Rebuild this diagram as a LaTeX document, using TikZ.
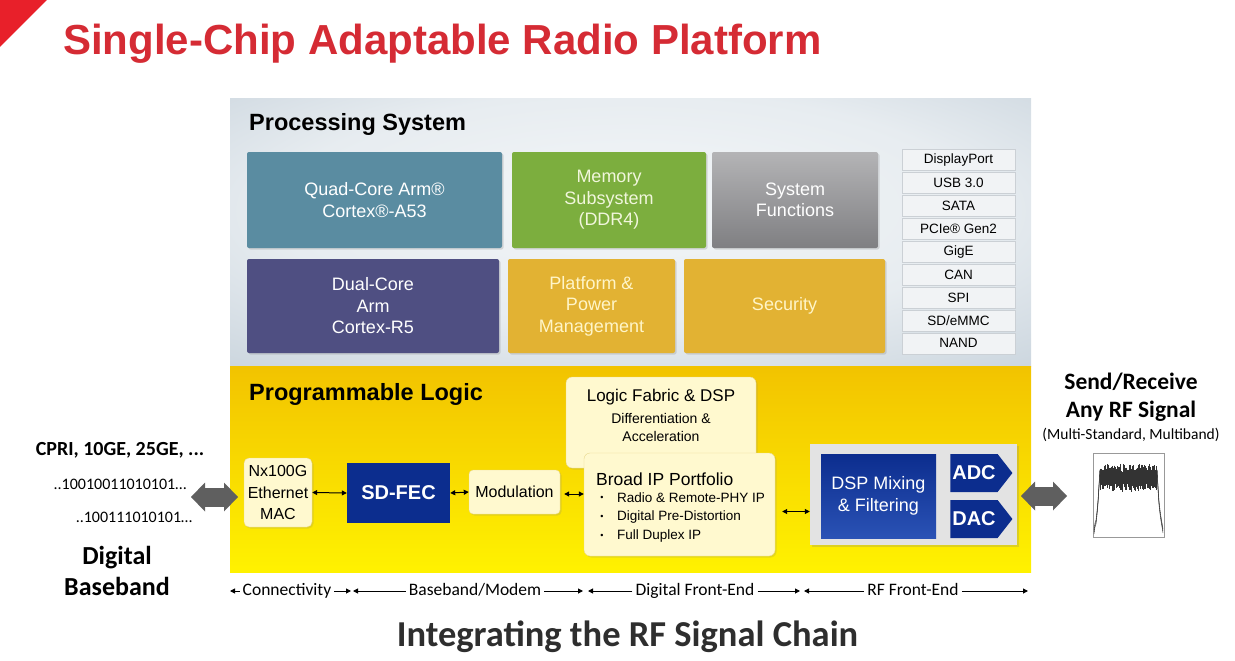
\documentclass[tikz,border=0pt]{standalone}
\usepackage{fontspec}
\setmainfont{Liberation Sans}
\newfontfamily\calfont{Carlito}
\usepackage{xcolor}
\usetikzlibrary{arrows.meta,shapes.symbols,shadows}

\definecolor{slidered}{HTML}{D52B34}
\definecolor{cornerred}{HTML}{E8202A}
\definecolor{psedge}{HTML}{B7C5D1}
\definecolor{pscore}{HTML}{F3F6F8}
\definecolor{pltop}{HTML}{F2C300}
\definecolor{plbot}{HTML}{FFF200}
\definecolor{quadblue}{HTML}{5A8CA1}
\definecolor{memgreen}{HTML}{7CAE3E}
\definecolor{memtext}{HTML}{F1F6DC}
\definecolor{dualpurple}{HTML}{4F4F82}
\definecolor{gold}{HTML}{E2B233}
\definecolor{goldtext}{HTML}{FFF5C8}
\definecolor{sysgray1}{HTML}{B4B4B6}
\definecolor{sysgray2}{HTML}{7F7F82}
\definecolor{ifacefill}{HTML}{F1F3F5}
\definecolor{ifaceline}{HTML}{CBD0D5}
\definecolor{cream}{HTML}{FFF9CF}
\definecolor{creamline}{HTML}{E8D88E}
\definecolor{fecblue}{HTML}{0C2D8E}
\definecolor{fecblue2}{HTML}{2A52B5}
\definecolor{rfgray}{HTML}{E3E3E3}
\definecolor{fatgray}{HTML}{5F5F5F}
\definecolor{darktext}{HTML}{2E2E2E}

\pgfdeclareradialshading{psglow}{\pgfpoint{0bp}{6bp}}{color(0bp)=(pscore); color(22bp)=(pscore!80!psedge); color(50bp)=(psedge); color(75bp)=(psedge)}

\tikzset{
	psblock/.style={rounded corners=2pt, inner sep=0pt, align=center, text=white,
		font=\fontsize{18}{21.5}\selectfont,
		drop shadow={shadow xshift=1.5pt, shadow yshift=-1.5pt, opacity=.25}},
	iface/.style={fill=ifacefill, draw=ifaceline, minimum width=113pt, minimum height=21pt,
		inner sep=0pt, font=\fontsize{13.5}{16}\selectfont},
	creambox/.style={fill=cream, draw=creamline, rounded corners=6pt, inner sep=0pt, align=center,
		font=\fontsize{16}{21.5}\selectfont,
		drop shadow={shadow xshift=1.5pt, shadow yshift=-1.5pt, opacity=.2}},
	bluebox/.style={fill=fecblue, inner sep=0pt, text=white, align=center},
	convbox/.style={shape=signal, signal to=east, signal pointer angle=104, fill=fecblue,
		minimum width=62pt, minimum height=38pt, inner sep=0pt, text=white,
		font=\bfseries\fontsize{20}{24}\selectfont},
	smallarr/.style={{Triangle[length=5pt,width=5pt]}-{Triangle[length=5pt,width=5pt]}, line width=1pt},
	fatarr/.style={fatgray, line width=19pt,
		{Triangle[length=14pt,width=29pt,line width=0pt]}-{Triangle[length=14pt,width=29pt,line width=0pt]}},
	spanarr/.style={-{Triangle[length=5pt,width=5pt]}, line width=1pt},
	spanlbl/.style={font=\calfont\fontsize{17.5}{20}\selectfont, inner sep=3pt, text height=12pt, text depth=3pt},
	paneltitle/.style={anchor=base west, inner sep=0pt, font=\bfseries\fontsize{23.5}{28}\selectfont},
	sidetext/.style={align=center, inner sep=0pt, font=\calfont\fontsize{16}{20}\selectfont},
	plotink/.style={black!80, line width=.6pt}
}

\begin{document}
\begin{tikzpicture}[x=1pt,y=-1pt]
		\useasboundingbox (0,0) rectangle (1235,661);
		
		\fill[cornerred] (0,0) -- (47,0) -- (0,47) -- cycle;
		
		\node[anchor=base west, inner sep=0pt, text=slidered, font=\bfseries\fontsize{42}{48}\selectfont] (title) at (63,55) {Single-Chip Adaptable Radio Platform};
		
		\shade[shading=psglow] (230,99) rectangle (1031,366);
		
		\shade[top color=pltop, bottom color=plbot] (230,366) rectangle (1031,572);
		
		\node[paneltitle] (ps) at (249,131) {Processing System};
		
		\node[paneltitle] (pl) at (249,400) {Programmable Logic};
		
		\node[psblock, fill=quadblue, minimum width=255pt, minimum height=96pt] (a53) at (374.5,200) {Quad-Core Arm®\\Cortex®-A53};
		
		\node[psblock, fill=memgreen, text=memtext, minimum width=194pt, minimum height=96pt] (mem) at (609,200) {Memory\\Subsystem\\(DDR4)};
		
		\node[psblock, top color=sysgray1, bottom color=sysgray2, minimum width=166pt, minimum height=96pt] (sysfn) at (795,200) {System\\Functions};
		
		\node[psblock, fill=dualpurple, minimum width=252pt, minimum height=94pt] (r5) at (373,306) {Dual-Core\\Arm\\Cortex-R5};
		
		\node[psblock, fill=gold, text=goldtext, minimum width=167pt, minimum height=94pt] (pwr) at (591.5,306) {Platform \&\\Power\\Management};
		
		\node[psblock, fill=gold, text=goldtext, minimum width=201pt, minimum height=94pt] (sec) at (784.5,306) {Security};
		
		\foreach \name [count=\i from 0] in {DisplayPort, USB 3.0, SATA, PCIe® Gen2, GigE, CAN, SPI, SD/eMMC, NAND}
			\node[iface] (if\i) at (958.5,{160+22.9*\i}) {\name};
		
		\node[creambox, minimum width=190pt, minimum height=91pt] (fabric) at (661,422.5) {};
		\node[inner sep=0pt, font=\fontsize{17}{20}\selectfont] (fabrictop) at (661,397) {Logic Fabric \& DSP};
		\node[inner sep=0pt, align=center, font=\fontsize{14}{18}\selectfont] (fabricsub) at (661,427) {Differentiation \&\\Acceleration};
		
		\node[creambox, minimum width=191pt, minimum height=103pt] (broadip) at (679.5,504.5) {};
		\node[anchor=west, inner sep=0pt, font=\fontsize{17.5}{20}\selectfont] (broadtop) at (596,479) {Broad IP Portfolio};
		\foreach \txt [count=\k from 0] in {Radio \& Remote-PHY IP, Digital Pre-Distortion, Full Duplex IP} {
			\node[inner sep=0pt, font=\fontsize{9}{10}\selectfont] (dot\k) at (602,{498+19*\k}) {\textbullet};
			\node[anchor=west, inner sep=0pt, font=\fontsize{13.5}{16}\selectfont] (item\k) at (617,{498+19*\k}) {\txt};
		}
		
		\node[creambox, rounded corners=5pt, minimum width=68pt, minimum height=69pt] (mac) at (278,492.5) {Nx100G\\Ethernet\\MAC};
		
		\node[bluebox, minimum width=103pt, minimum height=60pt, font=\bfseries\fontsize{20}{24}\selectfont] (fec) at (398.5,493) {SD-FEC};
		
		\node[creambox, rounded corners=4pt, minimum width=91pt, minimum height=44pt] (modu) at (514.5,492) {Modulation};
		
		\node[fill=rfgray, inner sep=0pt, minimum width=207pt, minimum height=101pt,
			drop shadow={shadow xshift=1.5pt, shadow yshift=-1.5pt, opacity=.25}] (rf) at (913.5,494.5) {};
		
		\node[bluebox, top color=fecblue, bottom color=fecblue2, minimum width=115pt, minimum height=84pt, font=\fontsize{18}{22}\selectfont] (mix) at (878.5,496) {DSP Mixing\\\& Filtering};
		
		\node[convbox] (adc) at (974,473) {ADC};
		
		\node[convbox] (dac) at (974,519) {DAC};
		
		\draw[smallarr] (mac.east) -- (fec.west);
		
		\draw[smallarr] (fec.east) -- (modu.west);
		
		\draw[smallarr] ([xshift=4pt,yshift=-2pt]modu.east) -- ([yshift=-2pt]modu.east -| broadip.west);
		
		\draw[smallarr] ([xshift=7pt,yshift=-7pt]broadip.east) -- ([yshift=-7pt]broadip.east -| rf.west);
		
		\node[sidetext, font=\calfont\bfseries\fontsize{20}{24}\selectfont] (cpri) at (120,450) {CPRI, 10GE, 25GE, ...};
		
		\node[sidetext] (bitsa) at (120,484) {..10010011010101…};
		
		\node[sidetext] (bitsb) at (134,517) {..100111010101…};
		
		\node[sidetext, font=\calfont\bfseries\fontsize{26}{31}\selectfont] (bband) at (117,571) {Digital\\Baseband};
		
		\coordinate (fatla) at (191,497);
		\coordinate (fatlb) at (238,497);
		\draw[fatarr] (fatla) -- (fatlb);
		
		\coordinate (fatra) at (1021,496);
		\coordinate (fatrb) at (1067,496);
		\draw[fatarr] (fatra) -- (fatrb);
		
		\node[sidetext, font=\calfont\bfseries\fontsize{23.5}{28}\selectfont] (anyrf) at (1131,397) {Send/Receive\\Any RF Signal};
		
		\node[sidetext, font=\calfont\fontsize{15.5}{18}\selectfont] (multi) at (1131,435) {(Multi-Standard, Multiband)};
		
		\draw[black!40, line width=.5pt] (1093,453) rectangle (1164,537);
		\pgfmathsetseed{11}
		\foreach \x in {1100,1100.7,...,1157}
			\draw[plotink] (\x,{464+8*rnd}) -- (\x,{484+8*rnd});
		\foreach \s in {0,2,4}
			\draw[plotink, line width=.4pt] (1094,{534-\s}) -- (1095,{527-\s}) -- (1096,{524-\s}) -- (1097,{515-\s}) -- (1098,{504-\s}) -- (1099,{488-\s}) -- (1100,470);
		\foreach \s in {0,2,4}
			\draw[plotink, line width=.4pt] (1157,470) -- (1158,{490-\s}) -- (1159,{505-\s}) -- (1160,{514-\s}) -- (1161,{521-\s}) -- (1162,{527-\s}) -- (1163,{533-\s});
		
		\node[spanlbl] (conn) at (287,591) {Connectivity};
		\node[spanlbl] (bbm) at (475,591) {Baseband/Modem};
		\node[spanlbl] (dfe) at (695,591) {Digital Front-End};
		\node[spanlbl] (rffe) at (913,591) {RF Front-End};
		
		\coordinate (s0) at (230,591);
		\coordinate (s1) at (351,591);
		\coordinate (s2) at (353,591);
		\coordinate (s3) at (583,591);
		\coordinate (s4) at (588,591);
		\coordinate (s5) at (800,591);
		\coordinate (s6) at (804,591);
		\coordinate (s7) at (1028,591);
		
		\draw[spanarr] (conn.west) -- (s0);
		\draw[spanarr] (conn.east) -- (s1);
		\draw[spanarr] (bbm.west) -- (s2);
		\draw[spanarr] (bbm.east) -- (s3);
		\draw[spanarr] (dfe.west) -- (s4);
		\draw[spanarr] (dfe.east) -- (s5);
		\draw[spanarr] (rffe.west) -- (s6);
		\draw[spanarr] (rffe.east) -- (s7);
		
		\node[text=darktext, inner sep=0pt, font=\calfont\bfseries\fontsize{36.5}{42}\selectfont] (chain) at (627.5,637) {Integrating the RF Signal Chain};
	\end{tikzpicture}
\end{document}
